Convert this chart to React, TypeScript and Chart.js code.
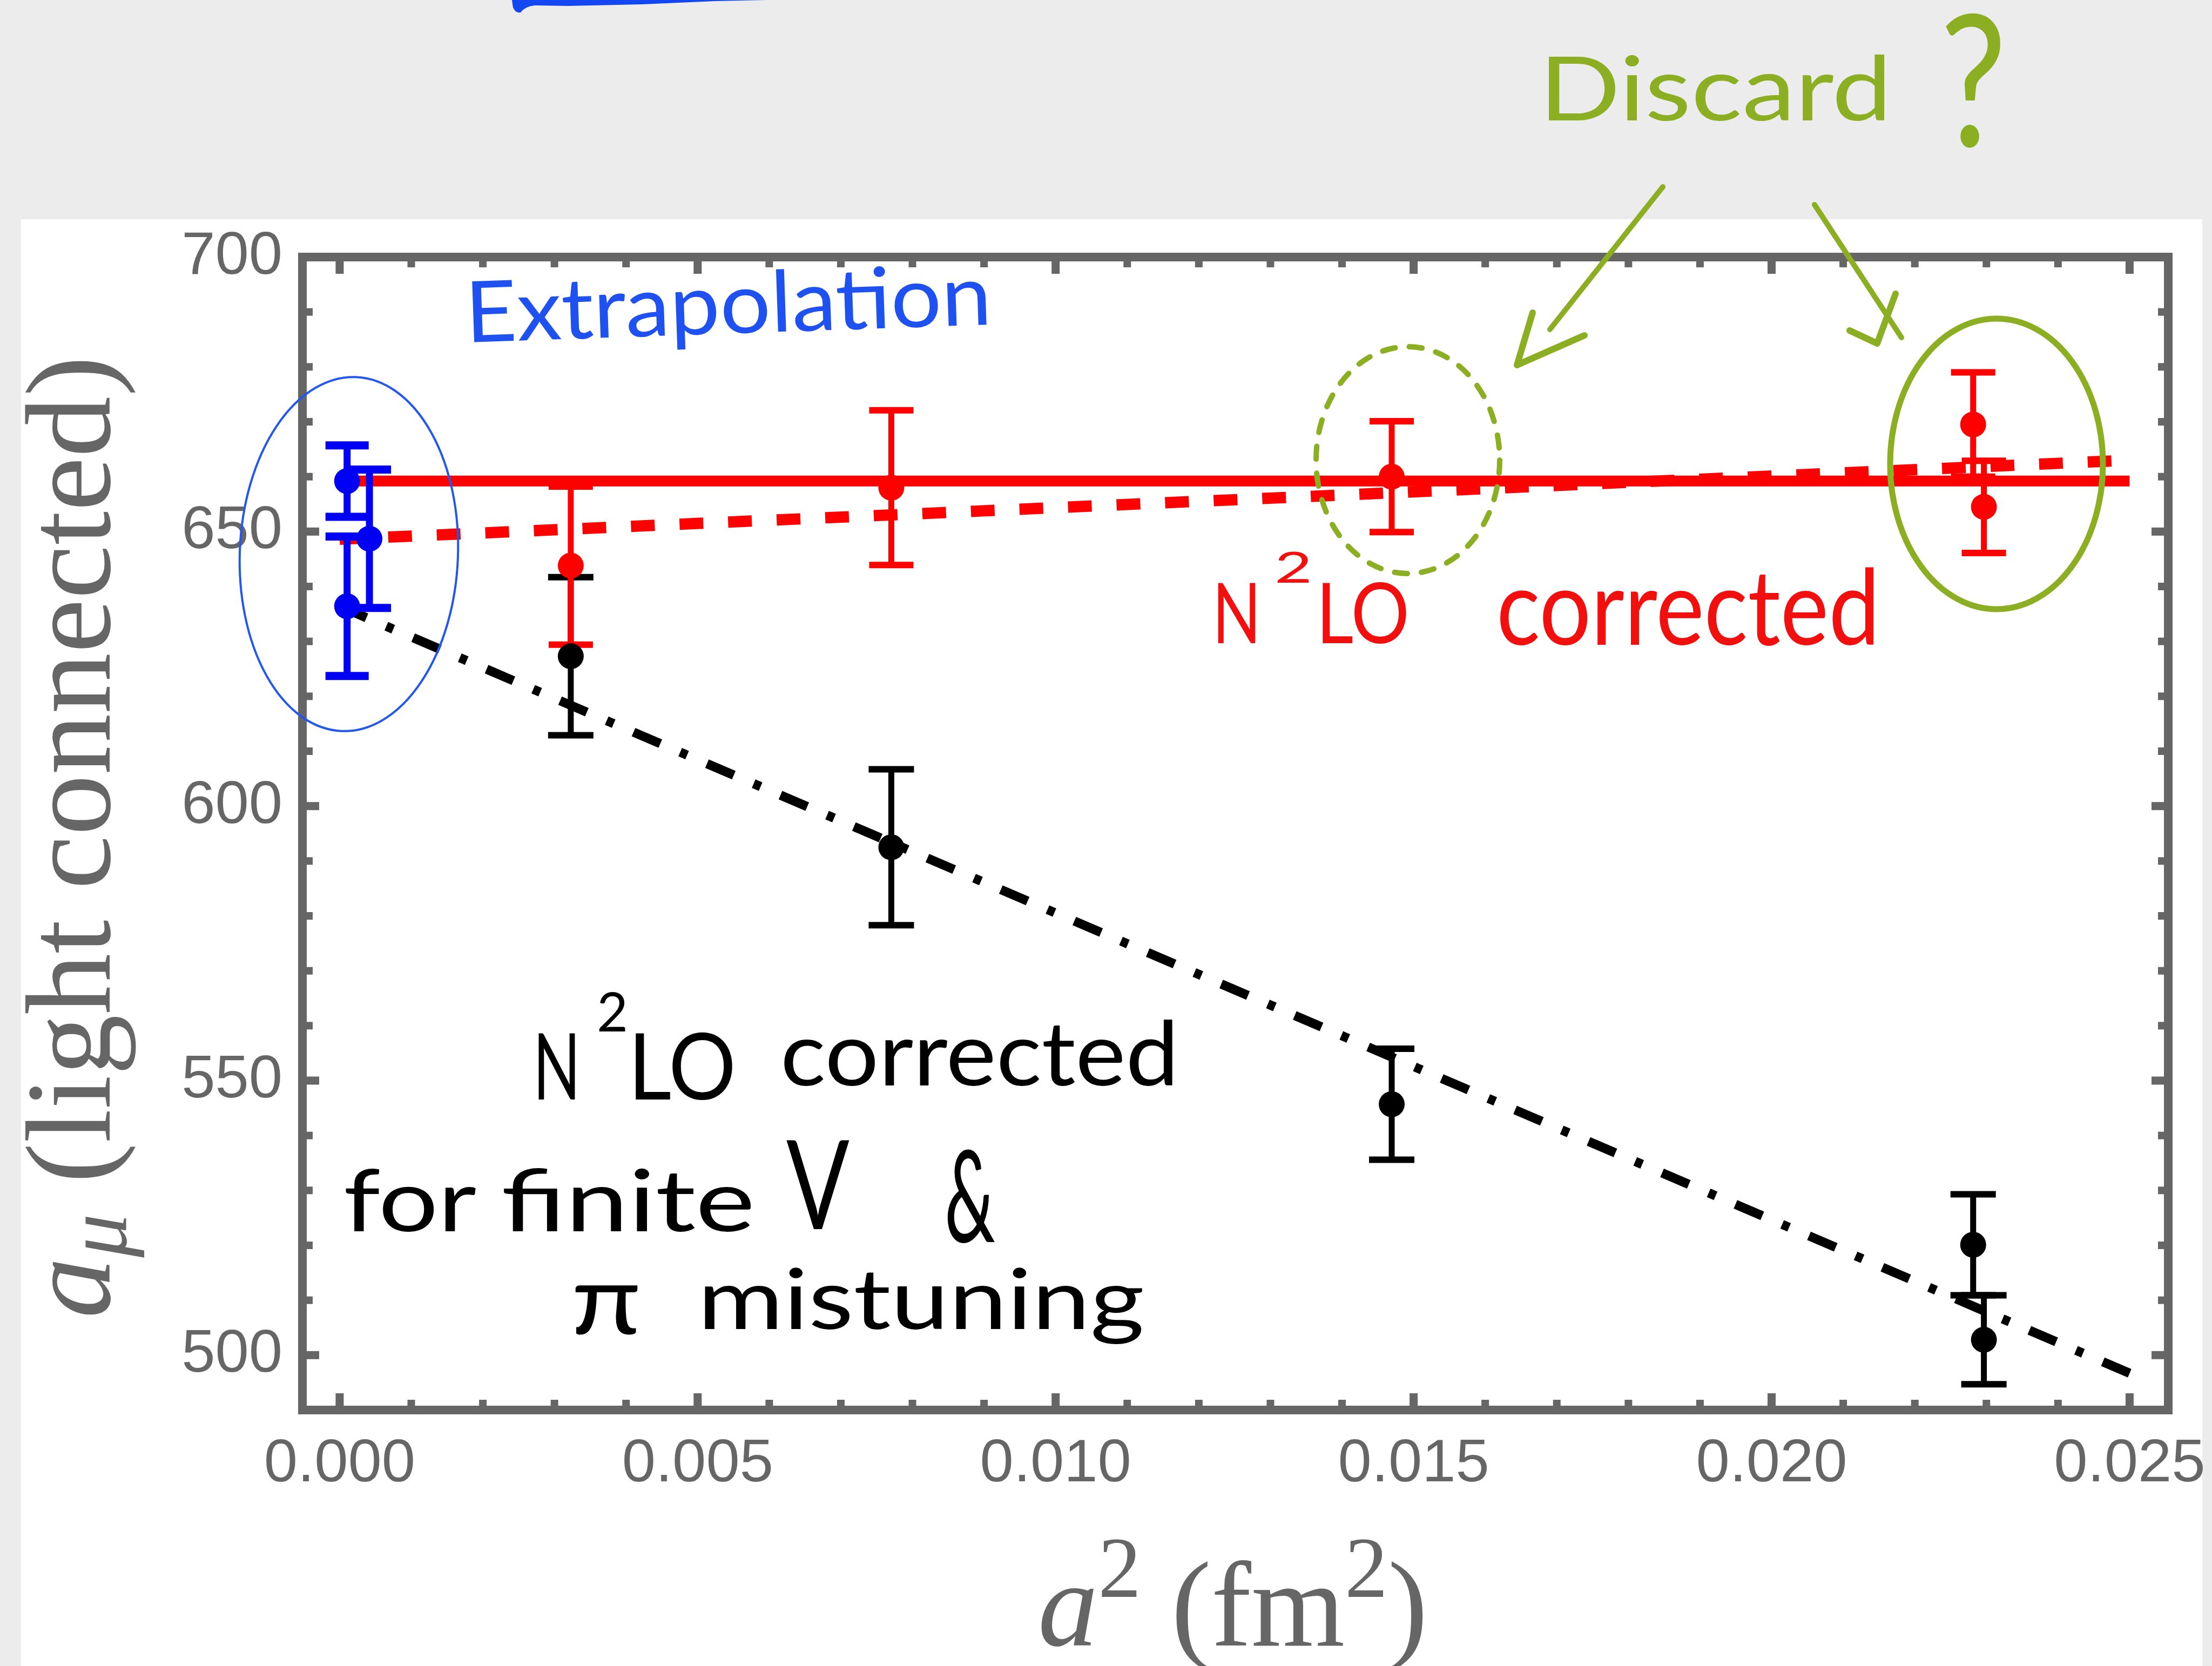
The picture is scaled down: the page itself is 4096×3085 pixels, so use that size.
import React, { useEffect, useRef } from 'react';
import { Chart, registerables } from 'chart.js';

Chart.register(...registerables);

const W = 4096;
const H = 3085;

// ---------- data ----------
const latticeA2 = [0.003228, 0.007705, 0.014694, 0.022815, 0.022965];
const redValues = [643.8, 658.0, 660.0, 669.5, 654.5];
const redErrors = [14.4, 14.1, 10.1, 9.5, 8.4];
const blackValues = [627.3, 592.5, 545.7, 520.1, 502.8];
const blackErrors = [14.4, 14.2, 10.1, 9.2, 8.1];
const blueA2 = [0.000104, 0.000416, 0.000104];
const blueValues = [659.2, 648.7, 636.4];
const blueErrors = [6.5, 12.6, 12.7];
const fitA2 = [0, 0.025];
const constantFit = [659.2, 659.2];
const linearFit = [648.6, 663.0];
const correctedFit = [636.4, 496.7];

const xTicks = [0, 0.005, 0.01, 0.015, 0.02, 0.025];
const xMinorTicks = [0.001, 0.002, 0.003, 0.004, 0.006, 0.007, 0.008, 0.009, 0.011, 0.012, 0.013, 0.014, 0.016, 0.017, 0.018, 0.019, 0.021, 0.022, 0.023, 0.024];
const yTicks = [500, 550, 600, 650, 700];
const yMinorTicks = [510, 520, 530, 540, 560, 570, 580, 590, 610, 620, 630, 640, 660, 670, 680, 690];
const xRange = [-0.00052, 0.02554];
const yRange = [490, 700];

const RED = '#ff0000';
const BLUE = '#0000f5';
const BLACK = '#000000';
const GRAY = '#666666';
const GREEN = '#8cae22';
const HAND_BLUE = '#1f50f0';
const HAND_FONT = 'Lato, "Open Sans", sans-serif';
const SERIF = '"Liberation Serif", "Times New Roman", serif';
const SANS = '"Liberation Sans", Arial, sans-serif';

// ---------- helpers ----------
function pts(xs: number[], ys: number[]) {
  return xs.map((x, i) => ({ x, y: ys[i] }));
}

function errorBars(xs: number[], ys: number[], es: number[], color: string, barW: number, capW: number, capHalf: number) {
  return xs.map((x, i) => ({
    label: 'err',
    data: [{ x, y: ys[i] - es[i] }, { x, y: ys[i] + es[i] }],
    showLine: true,
    borderColor: color,
    borderWidth: barW,
    borderCapStyle: 'butt',
    pointStyle: 'line',
    pointRadius: capHalf,
    pointHoverRadius: capHalf,
    pointBorderWidth: capW,
    pointBorderColor: color,
    pointBackgroundColor: color,
    order: 1,
  }));
}

function markers(xs: number[], ys: number[], color: string) {
  return {
    label: 'pts',
    data: pts(xs, ys),
    showLine: false,
    pointStyle: 'circle',
    pointRadius: 24,
    pointHoverRadius: 24,
    pointBorderWidth: 0,
    pointBackgroundColor: color,
    pointBorderColor: color,
    order: 0,
  };
}

type Run = { text: string; size: number; dy?: number; style?: string; family?: string };

function drawRuns(ctx: CanvasRenderingContext2D, runs: Run[], x: number, y: number, width: number, family: string, color: string, angle = 0) {
  ctx.save();
  ctx.fillStyle = color;
  ctx.textAlign = 'left';
  ctx.textBaseline = 'alphabetic';
  const fonts = runs.map(r => `${r.style || 'normal'} normal ${r.size}px ${r.family || family}`);
  let total = 0;
  const ws = runs.map((r, i) => {
    ctx.font = fonts[i];
    const w = ctx.measureText(r.text).width;
    total += w;
    return w;
  });
  ctx.translate(x, y);
  ctx.rotate(angle);
  ctx.scale(width / total, 1);
  let cx = 0;
  runs.forEach((r, i) => {
    ctx.font = fonts[i];
    ctx.fillText(r.text, cx, r.dy || 0);
    cx += ws[i];
  });
  ctx.restore();
}

function fit(ctx: CanvasRenderingContext2D, text: string, x0: number, x1: number, baseline: number, size: number, color: string, angle = 0) {
  drawRuns(ctx, [{ text, size }], x0, baseline, x1 - x0, HAND_FONT, color, angle);
}

function polyline(ctx: CanvasRenderingContext2D, p: number[][], color: string, lw: number) {
  ctx.save();
  ctx.beginPath();
  p.forEach(([x, y], i) => (i ? ctx.lineTo(x, y) : ctx.moveTo(x, y)));
  ctx.strokeStyle = color;
  ctx.lineWidth = lw;
  ctx.lineCap = 'round';
  ctx.lineJoin = 'round';
  ctx.stroke();
  ctx.restore();
}

function ellipse(ctx: CanvasRenderingContext2D, cx: number, cy: number, rx: number, ry: number, rot: number, color: string, lw: number, dash: number[] = []) {
  ctx.save();
  ctx.beginPath();
  ctx.ellipse(cx, cy, rx, ry, rot, 0, Math.PI * 2);
  ctx.strokeStyle = color;
  ctx.lineWidth = lw;
  ctx.setLineDash(dash);
  ctx.lineCap = 'round';
  ctx.stroke();
  ctx.restore();
}

// ---------- plugins ----------
const backgroundPlugin = {
  id: 'paper',
  beforeDraw(chart: any) {
    const ctx = chart.ctx as CanvasRenderingContext2D;
    ctx.save();
    ctx.fillStyle = '#ececec';
    ctx.fillRect(0, 0, W, H);
    ctx.fillStyle = '#ffffff';
    ctx.fillRect(39, 406, 4078 - 39, H - 406);
    ctx.restore();
  },
};

const framePlugin = {
  id: 'frame',
  afterDatasetsDraw(chart: any) {
    const ctx = chart.ctx as CanvasRenderingContext2D;
    const { left, right, top, bottom } = chart.chartArea;
    const xs = chart.scales.x;
    const ys = chart.scales.y;
    ctx.save();
    ctx.strokeStyle = GRAY;
    ctx.lineCap = 'butt';
    const major = 31;
    const minor = 19;
    const tick = (x0: number, y0: number, x1: number, y1: number, lw: number) => {
      ctx.beginPath();
      ctx.moveTo(x0, y0);
      ctx.lineTo(x1, y1);
      ctx.lineWidth = lw;
      ctx.stroke();
    };
    xTicks.forEach(v => {
      const p = xs.getPixelForValue(v);
      tick(p, bottom, p, bottom - major, 15);
      tick(p, top, p, top + major, 15);
    });
    xMinorTicks.forEach(v => {
      const p = xs.getPixelForValue(v);
      tick(p, bottom, p, bottom - minor, 14);
      tick(p, top, p, top + minor, 14);
    });
    yTicks.forEach(v => {
      const p = ys.getPixelForValue(v);
      tick(left, p, left + major, p, 15);
      tick(right, p, right - major, p, 15);
    });
    yMinorTicks.forEach(v => {
      const p = ys.getPixelForValue(v);
      tick(left, p, left + minor, p, 14);
      tick(right, p, right - minor, p, 14);
    });
    ctx.lineWidth = 16;
    ctx.lineJoin = 'miter';
    ctx.strokeRect(left, top, right - left, bottom - top);
    ctx.restore();
  },
};

const annotationPlugin = {
  id: 'notes',
  afterDraw(chart: any) {
    const ctx = chart.ctx as CanvasRenderingContext2D;

    // axis titles
    drawRuns(
      ctx,
      [
        { text: 'a', size: 224, style: 'italic' },
        { text: '2', size: 160, dy: -90 },
        { text: ' (fm', size: 224 },
        { text: '2', size: 160, dy: -90 },
        { text: ')', size: 224 },
      ],
      1922, 3047, 722, SERIF, GRAY,
    );
    drawRuns(
      ctx,
      [
        { text: 'a', size: 224, style: 'italic' },
        { text: 'μ', size: 160, style: 'italic', dy: 30 },
        { text: ' (light connected)', size: 224 },
      ],
      203, 2441, 1782, SERIF, GRAY, -Math.PI / 2,
    );

    // blue brush stroke at the top edge
    ctx.save();
    ctx.fillStyle = '#1447f2';
    ctx.beginPath();
    ctx.moveTo(948, 0);
    ctx.lineTo(950, 14);
    ctx.quadraticCurveTo(955, 25, 964, 23);
    ctx.quadraticCurveTo(972, 12, 990, 10);
    ctx.lineTo(1052, 11);
    ctx.lineTo(1189, 8);
    ctx.lineTo(1325, 2);
    ctx.lineTo(1420, 0);
    ctx.closePath();
    ctx.fill();
    ctx.restore();

    // blue annotation
    fit(ctx, 'Extrapolation', 863, 1838, 634, 157, HAND_BLUE, -0.034);
    ellipse(ctx, 646, 1026, 202, 328, 0.04, '#2457ee', 4);

    // green annotation
    fit(ctx, 'Discard', 2850, 3503, 223, 165, GREEN);
    fit(ctx, '?', 3592, 3716, 271, 340, GREEN);
    polyline(ctx, [[3079, 346], [2870, 610]], GREEN, 10);
    polyline(ctx, [[2838, 579], [2809, 676], [2934, 621]], GREEN, 12);
    polyline(ctx, [[3360, 379], [3521, 625]], GREEN, 10);
    polyline(ctx, [[3425, 612], [3476, 636], [3510, 544]], GREEN, 12);
    ellipse(ctx, 2607, 852, 170, 210, 0, GREEN, 10, [24, 26]);
    ellipse(ctx, 3697, 859, 197, 269, 0, GREEN, 11);

    // red annotation
    const HRED = '#f2100f';
    fit(ctx, 'N', 2245, 2335, 1191, 156, HRED);
    fit(ctx, '2', 2360, 2430, 1079, 80, HRED);
    fit(ctx, 'LO', 2437, 2610, 1191, 156, HRED);
    fit(ctx, 'corrected', 2771, 3481, 1194, 195, HRED);

    // black annotation
    fit(ctx, 'N', 987, 1075, 2036, 170, BLACK);
    fit(ctx, '2', 1105, 1163, 1910, 100, BLACK);
    fit(ctx, 'LO', 1163, 1363, 2036, 170, BLACK);
    fit(ctx, 'corrected', 1445, 2183, 2010, 165, BLACK);
    fit(ctx, 'for', 636, 882, 2280, 160, BLACK);
    fit(ctx, 'finite', 928, 1398, 2280, 160, BLACK);
    fit(ctx, 'V', 1456, 1573, 2276, 230, BLACK);
    fit(ctx, '&', 1749, 1843, 2300, 237, BLACK);
    fit(ctx, 'π', 1058, 1187, 2471, 180, BLACK);
    fit(ctx, 'mistuning', 1292, 2119, 2461, 155, BLACK);
  },
};

export default function App() {
  const ref = useRef<HTMLCanvasElement | null>(null);

  useEffect(() => {
    const canvas = ref.current;
    if (!canvas) return;

    const datasets: any[] = [
      markers(blueA2, blueValues, BLUE),
      markers(latticeA2, redValues, RED),
      markers(latticeA2, blackValues, BLACK),
      ...errorBars(blueA2, blueValues, blueErrors, BLUE, 13, 15, 40),
      ...errorBars(latticeA2, redValues, redErrors, RED, 11, 12, 41),
      ...errorBars(latticeA2, blackValues, blackErrors, BLACK, 11, 12, 42),
      {
        label: 'constant fit',
        data: pts(fitA2, constantFit),
        showLine: true,
        borderColor: RED,
        borderWidth: 20,
        borderCapStyle: 'butt',
        pointRadius: 0,
        pointHoverRadius: 0,
        order: 2,
      },
      {
        label: 'linear fit',
        data: pts(fitA2, linearFit),
        showLine: true,
        borderColor: RED,
        borderWidth: 21,
        borderDash: [44, 46],
        borderCapStyle: 'butt',
        pointRadius: 0,
        pointHoverRadius: 0,
        order: 2,
      },
      {
        label: 'corrected fit',
        data: pts(fitA2, correctedFit),
        showLine: true,
        borderColor: BLACK,
        borderWidth: 17,
        borderDash: [54, 40, 14, 40],
        borderCapStyle: 'butt',
        pointRadius: 0,
        pointHoverRadius: 0,
        order: 2,
      },
    ];

    const chart = new Chart(canvas, {
      type: 'scatter',
      data: { datasets },
      plugins: [backgroundPlugin, framePlugin, annotationPlugin],
      options: {
        responsive: false,
        maintainAspectRatio: false,
        animation: false,
        devicePixelRatio: 1,
        events: [],
        layout: { padding: { left: 0, top: 476, right: 81, bottom: 0 } },
        plugins: {
          legend: { display: false },
          tooltip: { enabled: false },
          title: { display: false },
        },
        scales: {
          x: {
            type: 'linear',
            min: xRange[0],
            max: xRange[1],
            afterBuildTicks: (s: any) => {
              s.ticks = xTicks.map(v => ({ value: v }));
            },
            afterFit: (s: any) => {
              s.height = 474;
              s.paddingLeft = 0;
              s.paddingRight = 0;
            },
            grid: { display: false, drawTicks: false },
            border: { display: false },
            ticks: {
              autoSkip: false,
              maxRotation: 0,
              minRotation: 0,
              padding: 34,
              color: GRAY,
              font: { family: SANS, size: 112 },
              callback: (v: any) => Number(v).toFixed(3),
            },
          },
          y: {
            type: 'linear',
            min: yRange[0],
            max: yRange[1],
            afterBuildTicks: (s: any) => {
              s.ticks = yTicks.map(v => ({ value: v }));
            },
            afterFit: (s: any) => {
              s.width = 560;
              s.paddingTop = 0;
              s.paddingBottom = 0;
            },
            grid: { display: false, drawTicks: false },
            border: { display: false },
            ticks: {
              autoSkip: false,
              padding: 37,
              color: GRAY,
              font: { family: SANS, size: 112 },
              callback: (v: any) => String(v),
            },
          },
        },
      } as any,
    });

    return () => chart.destroy();
  }, []);

  return (
    <div style={{ position: 'absolute', left: 0, top: 0, width: W, height: H, overflow: 'hidden' }}>
      <canvas ref={ref} width={W} height={H} style={{ display: 'block', width: W, height: H }} />
    </div>
  );
}
